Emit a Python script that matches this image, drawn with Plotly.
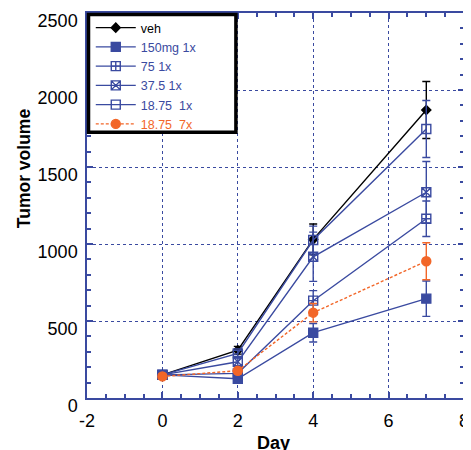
import plotly.graph_objects as go

days = [0, 2, 4, 7]
series_names = ["veh", "150mg 1x", "75 1x", "37.5 1x", "18.75  1x", "18.75  7x"]
veh = [150, 310, 1030, 1870]
veh_err = [15, 25, 100, 185]
mg150 = [150, 125, 424, 645]
mg150_err = [15, 15, 60, 115]
mg75 = [150, 160, 632, 1164]
mg75_err = [15, 20, 65, 115]
mg37 = [150, 235, 917, 1336]
mg37_err = [15, 25, 160, 200]
mg18 = [150, 290, 1026, 1747]
mg18_err = [15, 20, 90, 185]
mg18x7 = [140, 177, 554, 888]
mg18x7_err = [15, 20, 60, 120]

x_tickvals = [-2, 0, 2, 4, 6, 8]
x_ticktext = ["-2", "0", "2", "4", "6", "8"]

BLUE = "rgb(58,74,160)"
ORANGE = "rgb(242,102,40)"
FONT = "Liberation Sans, Arial"

specs = [
    (veh, veh_err, "black", "diamond", 7, "solid"),
    (mg150, mg150_err, BLUE, "square", 9, "solid"),
    (mg75, mg75_err, BLUE, "square-cross-open", 9, "solid"),
    (mg37, mg37_err, BLUE, "square-x-open", 9, "solid"),
    (mg18, mg18_err, BLUE, "square-open", 9, "solid"),
    (mg18x7, mg18x7_err, ORANGE, "circle", 9, "3px,2px"),
]

fig = go.Figure()
for name, (ys, err, col, sym, size, dash) in zip(series_names, specs):
    fig.add_trace(go.Scatter(
        x=days, y=ys, mode="lines+markers",
        name=f"<span style='color:{col}'>{name}</span>",
        line=dict(color=col, width=1.4, dash=dash),
        marker=dict(symbol=sym, size=size, color=col, line=dict(color=col, width=1.4)),
        error_y=dict(type="data", array=err, visible=True, color=col, thickness=1.4, width=4),
    ))

axis_common = dict(
    showline=True, linecolor=BLUE, linewidth=1.5, mirror="ticks",
    ticks="inside", tickcolor=BLUE, ticklen=6, tickwidth=1.5,
    showgrid=True, gridcolor=BLUE, griddash="dot", gridwidth=1,
    zeroline=False, automargin=False,
    tickfont=dict(family=FONT, size=18, color="black"),
)

fig.update_xaxes(
    range=[-2, 8], tickvals=x_tickvals, ticktext=x_ticktext,
    minor=dict(dtick=0.5, ticks="inside", ticklen=4, tickcolor=BLUE, showgrid=False),
    ticklabelstandoff=6, ticklabeloverflow="allow",
    **axis_common,
)
fig.update_yaxes(
    range=[0, 2500], dtick=500,
    minor=dict(dtick=100, ticks="inside", ticklen=4, tickcolor=BLUE, showgrid=False),
    ticklabelstandoff=4, ticklabelshift=8, ticklabeloverflow="allow",
    **axis_common,
)

# axis titles placed as in the reference
fig.add_annotation(
    text="<b>Tumor volume</b>", textangle=-90, showarrow=False,
    xref="paper", yref="paper", x=0, y=0.597, xshift=-63,
    xanchor="center", yanchor="middle",
    font=dict(family=FONT, size=17.5, color="black"),
)
fig.add_annotation(
    text="<b>Day</b>", showarrow=False,
    xref="paper", yref="paper", x=0.5, y=0, xshift=-2, yshift=-33,
    xanchor="center", yanchor="top",
    font=dict(family=FONT, size=18, color="black"),
)

# legend frame (thick black box in the upper-left corner of the plot)
fig.add_shape(
    type="rect", xref="paper", yref="paper",
    x0=0.004, x1=0.395, y0=0.69, y1=0.996,
    line=dict(color="black", width=3.5), fillcolor="white", layer="above",
)

# the page body has an 8px default margin, so the figure is 8px smaller
fig.update_layout(
    width=463, height=442,
    margin=dict(l=79, r=7, t=5, b=52),
    plot_bgcolor="white", paper_bgcolor="white",
    showlegend=True,
    legend=dict(
        x=0.01, y=1.0, xanchor="left", yanchor="top",
        bgcolor="rgba(0,0,0,0)", borderwidth=0,
        font=dict(family=FONT, size=12.5, color="black"),
        itemwidth=40, tracegroupgap=0,
    ),
)

fig.write_html("out.html")
